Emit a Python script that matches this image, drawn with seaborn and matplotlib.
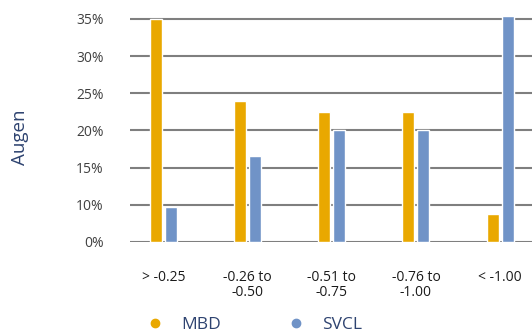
import matplotlib
matplotlib.use("Agg")
import matplotlib.pyplot as plt
from matplotlib.lines import Line2D
import seaborn as sns
import pandas as pd
import numpy as np

categories = ["> -0.25", "-0.26 to\n-0.50", "-0.51 to\n-0.75", "-0.76 to\n-1.00", "< -1.00"]
mbd = [35.0, 24.0, 22.5, 22.5, 7.5]
svcl = [9.3, 16.5, 20.0, 20.0, 35.4]
series = ["MBD", "SVCL"]
colors = ["#E9A800", "#7093C7"]
ytick_vals = [0, 10, 15, 20, 25, 30, 35]

df = pd.DataFrame({
    "cat": categories * 2,
    "val": mbd + svcl,
    "series": [series[0]] * len(categories) + [series[1]] * len(categories),
})

sns.set_theme(style="white")
plt.rcParams["font.family"] = ["Open Sans", "DejaVu Sans"]

fig = plt.figure(figsize=(5.32, 3.36), dpi=100)
ax = fig.add_axes([130 / 532, 0.28, 402 / 532, 242 / 336])

def fwd(y):
    y = np.asarray(y, dtype=float)
    return np.where(y < 10, y / 2.0, y - 5.0)

def inv(t):
    t = np.asarray(t, dtype=float)
    return np.where(t < 5, t * 2.0, t + 5.0)

ax.set_yscale("function", functions=(fwd, inv))

sns.barplot(data=df, x="cat", y="val", hue="series", palette=colors,
            width=0.357, gap=0.2, legend=False, ax=ax, saturation=1)

ax.set_ylim(0, 37.56)
ax.set_xlim(-0.40, 4.38)
ax.set_yticks(ytick_vals)
ax.set_yticklabels([f"{v}%" for v in ytick_vals])
ax.minorticks_off()
ax.xaxis.grid(False)
ax.yaxis.grid(True, color="#7f7f7f", linewidth=1.5)
ax.set_axisbelow(True)
for s in ax.spines.values():
    s.set_visible(False)
ax.tick_params(axis="y", length=0, pad=19, labelsize=10, labelcolor="#404040")
ax.tick_params(axis="x", length=0, pad=20, labelsize=10, labelcolor="#1a1a1a")
for lbl in ax.get_xticklabels():
    lbl.set_linespacing(1.05)
ax.set_xlabel("")
ax.set_ylabel("Augen", fontsize=13.5, color="#2E4370")
ax.yaxis.set_label_coords((29 - 130) / 402, (242 - 137) / 242)

handles = [Line2D([], [], marker="o", linestyle="none", markersize=6,
                  markerfacecolor=c, markeredgecolor=c) for c in colors]
fig.legend(handles, series, loc="center", bbox_to_anchor=(254 / 532, 1 - 325 / 336),
           ncol=2, frameon=False, fontsize=12.5, labelcolor="#2E4370",
           columnspacing=3.8, handletextpad=1.0, handlelength=1)

fig.savefig("out.png", dpi=100)
